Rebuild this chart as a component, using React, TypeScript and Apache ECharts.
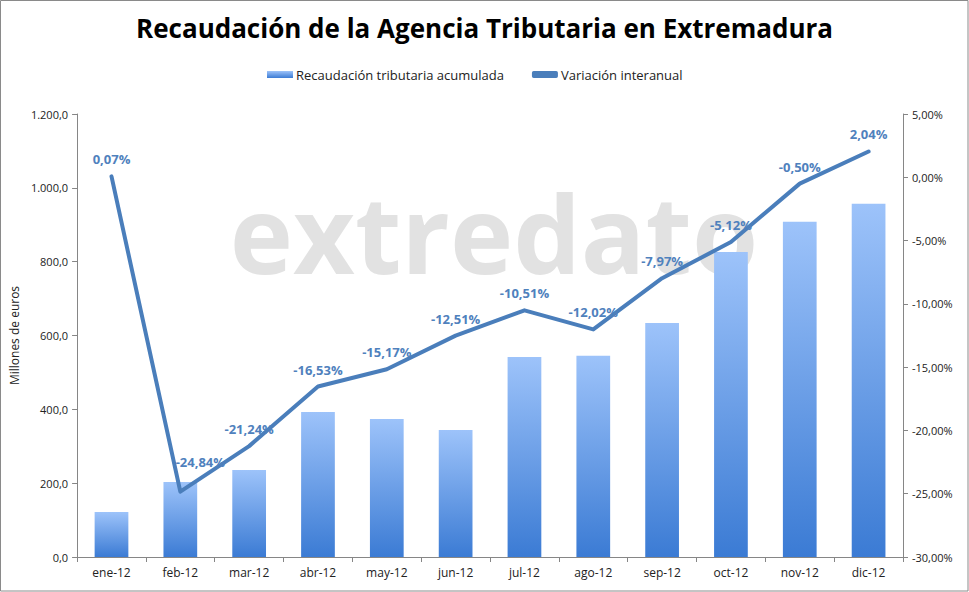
import React, { useEffect, useRef } from "react";
import * as echarts from "echarts";

const categories = ["ene-12", "feb-12", "mar-12", "abr-12", "may-12", "jun-12", "jul-12", "ago-12", "sep-12", "oct-12", "nov-12", "dic-12"];
const recaudacion = [122, 203, 236, 393, 374, 344, 542, 545, 634, 826, 908, 957];
const variacion = [0.07, -24.84, -21.24, -16.53, -15.17, -12.51, -10.51, -12.02, -7.97, -5.12, -0.5, 2.04];

const titleText = "Recaudación de la Agencia Tributaria en Extremadura";
const barName = "Recaudación tributaria acumulada";
const lineName = "Variación interanual";
const yName = "Millones de euros";
const watermark = "extredato";

const FONT = '"Open Sans", "Noto Sans", sans-serif';

const fmtLeft = (v: number) => {
  const s = v.toFixed(1).replace(".", ",");
  const [i, d] = s.split(",");
  return i.replace(/\B(?=(\d{3})+(?!\d))/g, ".") + "," + d;
};
const fmtPct = (v: number) => v.toFixed(2).replace(".", ",") + "%";

export default function App() {
  const ref = useRef<HTMLDivElement>(null);
  useEffect(() => {
    if (!ref.current) return;
    const chart = echarts.init(ref.current, null, { renderer: "svg" });
    const lineData = variacion.map((v, i) =>
      i === 1
        ? { value: v, label: { offset: [20, -13] } }
        : { value: v }
    );
    chart.setOption({
      animation: false,
      backgroundColor: "#ffffff",
      textStyle: { fontFamily: FONT },
      title: {
        text: titleText,
        left: "center",
        top: 10,
        textStyle: { fontSize: 26, fontWeight: "bold", color: "#000", fontFamily: FONT },
      },
      legend: {
        top: 63,
        left: 262,
        itemWidth: 26,
        itemHeight: 7,
        itemGap: 28,
        textStyle: { fontSize: 13, color: "#222", fontFamily: FONT, padding: [0, 0, 0, -2] },
        data: [
          { name: barName, icon: "rect" },
          { name: lineName, icon: "roundRect" },
        ],
      },
      graphic: [
        {
          type: "text",
          z: -10,
          silent: true,
          style: {
            x: 494,
            y: 232,
            text: watermark,
            align: "center",
            verticalAlign: "middle",
            font: 'bold 107px "Open Sans", sans-serif',
            fill: "#e2e2e2",
          },
        },
        {
          type: "rect",
          silent: true,
          z: 100,
          shape: { x: 0.5, y: 0.5, width: 967.5, height: 590.5 },
          style: { fill: "none", stroke: "#8a8a8a", lineWidth: 1 },
        },
      ],
      grid: { left: 72, right: 66, top: 114, bottom: 35, containLabel: false },
      xAxis: {
        type: "category",
        data: categories,
        boundaryGap: true,
        axisLine: { lineStyle: { color: "#868686" } },
        axisTick: { show: true, length: 5, lineStyle: { color: "#868686" } },
        axisLabel: { color: "#222", fontSize: 12, margin: 9, fontFamily: FONT },
      },
      yAxis: [
        {
          type: "value",
          min: 0,
          max: 1200,
          interval: 200,
          name: yName,
          nameLocation: "middle",
          nameRotate: 90,
          nameGap: 54,
          nameTextStyle: { color: "#222", fontSize: 12, fontFamily: FONT },
          axisLine: { show: true, lineStyle: { color: "#868686" } },
          axisTick: { show: true, length: 5, lineStyle: { color: "#868686" } },
          splitLine: { show: false },
          axisLabel: { color: "#222", fontSize: 11, margin: 9, formatter: fmtLeft, fontFamily: FONT },
        },
        {
          type: "value",
          min: -30,
          max: 5,
          interval: 5,
          position: "right",
          axisLine: { show: true, lineStyle: { color: "#868686" } },
          axisTick: { show: true, length: 5, lineStyle: { color: "#868686" } },
          splitLine: { show: false },
          axisLabel: { color: "#222", fontSize: 11, margin: 9, formatter: fmtPct, fontFamily: FONT },
        },
      ],
      series: [
        {
          name: barName,
          type: "bar",
          yAxisIndex: 0,
          data: recaudacion,
          barWidth: "49%",
          itemStyle: {
            color: new echarts.graphic.LinearGradient(0, 0, 0, 1, [
              { offset: 0, color: "#9dc3fa" },
              { offset: 1, color: "#3b7bd4" },
            ]),
          },
          z: 2,
        },
        {
          name: lineName,
          type: "line",
          yAxisIndex: 1,
          data: lineData,
          symbol: "circle",
          symbolSize: 1,
          showSymbol: true,
          itemStyle: { color: "#4a7ebb" },
          lineStyle: { color: "#4a7ebb", width: 4, cap: "round", join: "round" },
          label: {
            show: true,
            position: "top",
            distance: 10,
            color: "#4f81bd",
            fontWeight: "bold",
            fontSize: 13,
            fontFamily: FONT,
            formatter: (p: any) => fmtPct(p.value),
          },
          z: 3,
        },
      ],
    });
    return () => chart.dispose();
  }, []);
  return (
    <div
      ref={ref}
      style={{ position: "absolute", left: 0, top: 0, width: 969, height: 592 }}
    />
  );
}
